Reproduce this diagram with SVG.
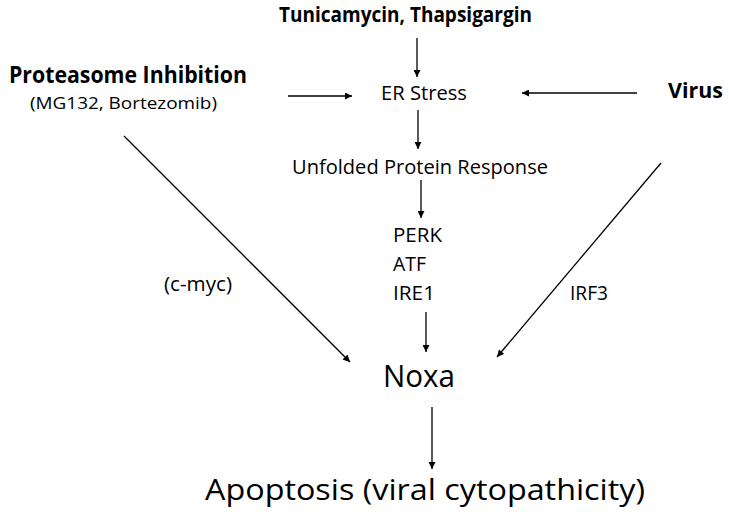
<svg xmlns="http://www.w3.org/2000/svg" width="729" height="515" viewBox="0 0 729 515">
<style>
text{font-family:"Open Sans","Liberation Sans",sans-serif;fill:#000}
.b{font-weight:bold}
.s{font-size:20px}
.big{font-size:30px}
.c line{stroke:#000;stroke-width:1.3;marker-end:url(#ah)}
</style>
<defs>
<marker id="ah" viewBox="0 0 10 10" refX="10" refY="5" markerWidth="8" markerHeight="7" markerUnits="userSpaceOnUse" orient="auto">
<path d="M0,0 L10,5 L0,10 z" fill="#000"/>
</marker>
</defs>
<rect width="729" height="515" fill="#fff"/>
<g id="tunicamycin"><text class="b" x="279" y="22" font-size="21" textLength="253" lengthAdjust="spacingAndGlyphs">Tunicamycin, Thapsigargin</text></g>
<g id="proteasome"><text class="b" x="9" y="83" font-size="24" textLength="238" lengthAdjust="spacingAndGlyphs">Proteasome Inhibition</text>
<text x="30" y="108.5" font-size="16" textLength="187" lengthAdjust="spacingAndGlyphs">(MG132, Bortezomib)</text></g>
<g id="er"><text x="381" y="100" font-size="19.5" textLength="86" lengthAdjust="spacingAndGlyphs">ER Stress</text></g>
<g id="virus"><text class="b" x="668" y="98" font-size="22" textLength="55" lengthAdjust="spacingAndGlyphs">Virus</text></g>
<g id="upr"><text x="292" y="174" font-size="19.5" textLength="256" lengthAdjust="spacingAndGlyphs">Unfolded Protein Response</text></g>
<g id="perk"><text class="s" x="393" y="242" textLength="49" lengthAdjust="spacingAndGlyphs">PERK</text>
<text class="s" x="393" y="271" textLength="33" lengthAdjust="spacingAndGlyphs">ATF</text>
<text class="s" x="393" y="300" textLength="42" lengthAdjust="spacingAndGlyphs">IRE1</text></g>
<g id="cmyc"><text class="s" x="164" y="291" textLength="68" lengthAdjust="spacingAndGlyphs">(c-myc)</text></g>
<g id="irf3"><text class="s" x="570" y="300" textLength="38" lengthAdjust="spacingAndGlyphs">IRF3</text></g>
<g id="noxa"><text x="383" y="387" font-size="31" textLength="72" lengthAdjust="spacingAndGlyphs">Noxa</text></g>
<g id="apoptosis"><text class="big" x="205" y="500" textLength="440" lengthAdjust="spacingAndGlyphs">Apoptosis (viral cytopathicity)</text></g>
<g id="connectors" class="c">
<line x1="417" y1="38" x2="417" y2="77"/>
<line x1="288" y1="96" x2="352" y2="96"/>
<line x1="637" y1="93" x2="522" y2="93"/>
<line x1="418" y1="110" x2="418" y2="149"/>
<line x1="421" y1="180" x2="421" y2="218"/>
<line x1="124" y1="136" x2="350" y2="362"/>
<line x1="661" y1="163" x2="497" y2="357"/>
<line x1="426" y1="312" x2="426" y2="352"/>
<line x1="432" y1="407" x2="432" y2="469"/>
</g>
</svg>
